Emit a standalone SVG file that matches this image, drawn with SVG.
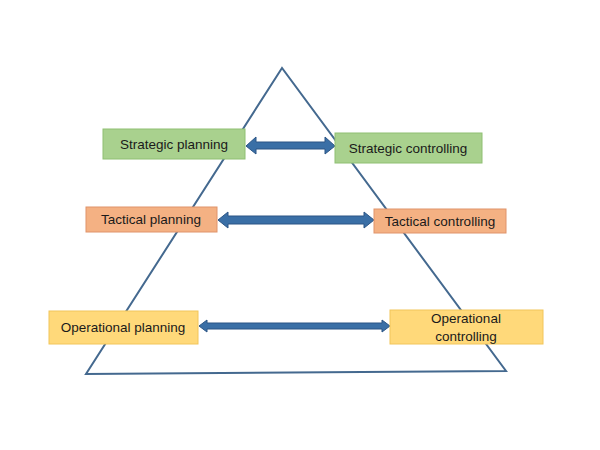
<svg xmlns="http://www.w3.org/2000/svg" width="600" height="450" viewBox="0 0 600 450">
<style>
text{font-family:"Liberation Sans",Arial,sans-serif;font-size:13.5px;fill:#1a1a1a;text-anchor:middle;dominant-baseline:central}
.g{fill:#a9d18e;stroke:#8fbf73;stroke-width:1}
.t{fill:#f4b183;stroke:#e0936a;stroke-width:1}
.y{fill:#ffd97a;stroke:#f2c55a;stroke-width:1}
.arr{fill:#3a6fa6;stroke:#2b5585;stroke-width:1}
</style>
<rect width="600" height="450" fill="#fff"/>
<polygon points="282,68 86,374 506,371" fill="none" stroke="#44698f" stroke-width="2"/>
<g id="connectors">
<polygon class="arr" points="246,146 256,137 256,142 325,142 325,137 335,146 325,154 325,149 256,149 256,154"/>
<polygon class="arr" points="218,220 228,212 228,216 364,216 364,212 374,220 364,228 364,224 228,224 228,228"/>
<polygon class="arr" points="199,326 207,320 207,323 382,323 382,320 390,326 382,332 382,329 207,329 207,332"/>
</g>
<g id="strategic-planning"><rect class="g" x="103" y="129" width="142" height="30"/><text x="174" y="144">Strategic planning</text></g>
<g id="strategic-controlling"><rect class="g" x="335" y="133" width="147" height="30"/><text x="408" y="148">Strategic controlling</text></g>
<g id="tactical-planning"><rect class="t" x="86" y="207" width="131" height="25"/><text x="151" y="219">Tactical planning</text></g>
<g id="tactical-controlling"><rect class="t" x="374" y="209" width="132" height="24"/><text x="440" y="221">Tactical controlling</text></g>
<g id="operational-planning"><rect class="y" x="49" y="311" width="149" height="33"/><text x="123" y="327">Operational planning</text></g>
<g id="operational-controlling"><rect class="y" x="390" y="310" width="153" height="34"/><text x="466" y="318">Operational</text><text x="466" y="336">controlling</text></g>
</svg>
